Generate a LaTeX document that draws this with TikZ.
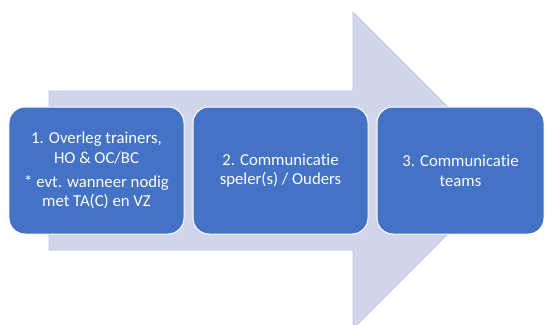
\documentclass[tikz,border=0pt]{standalone}
\usepackage{fontspec}
\setmainfont[Ligatures={NoCommon}]{Carlito}
\definecolor{arrowfill}{HTML}{CFD5EA}
\definecolor{arrowline}{HTML}{BCC3DB}
\definecolor{boxfill}{HTML}{4472C4}
\begin{document}
\begin{tikzpicture}[x=1bp,y=-1bp,
  stepbox/.style={draw=white, line width=1bp, fill=boxfill, rounded corners=16bp,
    text=white, align=center, inner sep=0pt,
    font=\fontsize{16.8}{19.8}\selectfont},
]
\useasboundingbox (0,0) rectangle (546,324);
\clip (0,0) rectangle (546,324);
\fill[white] (0,0) rectangle (546,324);
% big arrow
\draw[fill=arrowfill, draw=arrowline, line width=0.6bp]
  (49,91) -- (353,91) -- (353,12) -- (511.5,170.5) -- (353,329) -- (353,250) -- (49,250) -- cycle;
% boxes
\node[stepbox, minimum width=175bp, minimum height=127bp] (b1) at (96.5,170.5)
  {1. Overleg trainers,\\ HO \& OC/BC\\[4.5bp] * evt. wanneer nodig\\ met TA(C) en VZ};
\node[stepbox, minimum width=175bp, minimum height=127bp] (b2) at (280.5,170.5)
  {2. Communicatie\\ speler(s) / Ouders};
\node[stepbox, minimum width=167bp, minimum height=127bp] (b3) at (460.5,170.5)
  {3. Communicatie\\ teams};
\end{tikzpicture}
\end{document}
